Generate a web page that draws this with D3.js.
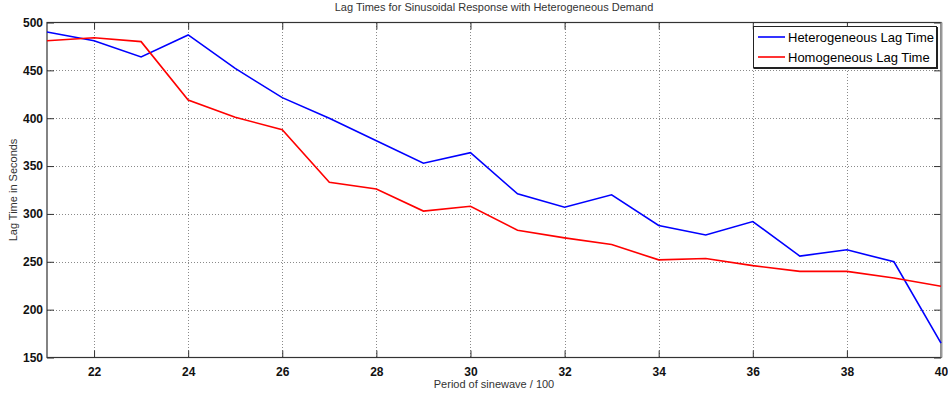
<!DOCTYPE html>
<html>
<head>
<meta charset="utf-8">
<script src="https://cdn.jsdelivr.net/npm/d3@7"></script>
<style>
  html, body { margin: 0; padding: 0; background: #fff; }
  svg { display: block; font-family: "Liberation Sans", Arial, Helvetica, sans-serif; }
</style>
</head>
<body>
<svg id="chart" width="948" height="396"></svg>
<script>
// Period of the sinewave (in hundreds)
const periods = [21, 22, 23, 24, 25, 26, 27, 28, 29, 30, 31, 32, 33, 34, 35, 36, 37, 38, 39, 40];
// Lag time in seconds, heterogeneous demand
const heterogeneousLag = [490, 481, 464, 487, 452, 421.5, 400, 376.5, 353, 364, 321, 307, 320, 288, 278, 292, 256, 262.5, 250, 165];
// Lag time in seconds, homogeneous demand
const homogeneousLag = [481, 484, 480, 419, 401, 388, 333, 326, 303, 308, 283, 275, 268, 252, 253.5, 246, 240, 240, 233, 224.5];

const xTicks = [22, 24, 26, 28, 30, 32, 34, 36, 38, 40];
const yTicks = [150, 200, 250, 300, 350, 400, 450, 500];
const seriesNames = ["Heterogeneous Lag Time", "Homogeneous Lag Time"];
const seriesColors = ["#0000ff", "#ff0000"];

const svg = d3.select("#chart");
const plotLeft = 47, plotRight = 941, plotTop = 22.5, plotBottom = 357.5;

const x = d3.scaleLinear().domain([21, 40]).range([plotLeft, plotRight]);
const y = d3.scaleLinear().domain([150, 500]).range([plotBottom, plotTop]);

// dotted grid
const grid = svg.append("g").attr("stroke", "#8a8a8a").attr("stroke-width", 1)
  .attr("stroke-dasharray", "1,2").attr("shape-rendering", "crispEdges");
grid.selectAll("line.gx").data(xTicks.filter(t => t !== 40)).enter().append("line")
  .attr("x1", d => Math.round(x(d)) + 0.5).attr("x2", d => Math.round(x(d)) + 0.5)
  .attr("y1", plotTop).attr("y2", plotBottom);
grid.selectAll("line.gy").data(yTicks.filter(t => t !== 150 && t !== 500)).enter().append("line")
  .attr("y1", d => Math.round(y(d)) + 0.5).attr("y2", d => Math.round(y(d)) + 0.5)
  .attr("x1", plotLeft).attr("x2", plotRight);

// axes with inward ticks, mirrored on the opposite sides
const tickLen = 7;
const axisColor = "#333";
const xBottom = d3.axisBottom(x).tickValues(xTicks).tickSize(-tickLen).tickPadding(10).tickFormat(d3.format("d"));
const xTop = d3.axisTop(x).tickValues(xTicks).tickSize(-tickLen).tickFormat("");
const yLeft = d3.axisLeft(y).tickValues(yTicks).tickSize(-tickLen).tickPadding(4).tickFormat(d3.format("d"));
const yRight = d3.axisRight(y).tickValues(yTicks).tickSize(-tickLen).tickFormat("");

function styleAxis(g) {
  g.select(".domain").remove();
  g.selectAll(".tick line").attr("stroke", axisColor);
  g.selectAll(".tick text").attr("fill", "#111").attr("font-size", 12).attr("font-weight", "bold")
    .attr("font-family", "\"Liberation Sans\", Arial, sans-serif");
}
svg.append("g").attr("transform", `translate(0,${plotBottom})`).call(xBottom).call(styleAxis);
svg.append("g").attr("transform", `translate(0,${plotTop})`).call(xTop).call(styleAxis);
svg.append("g").attr("transform", `translate(${plotLeft},0)`).call(yLeft).call(styleAxis);
svg.append("g").attr("transform", `translate(${plotRight},0)`).call(yRight).call(styleAxis);

// frame
svg.append("rect").attr("x", plotLeft).attr("y", plotTop).attr("width", plotRight - plotLeft).attr("height", plotBottom - plotTop)
  .attr("fill", "none").attr("stroke", axisColor).attr("stroke-width", 1.2);
svg.append("line").attr("x1", plotRight + 0.5).attr("x2", plotRight + 0.5).attr("y1", plotTop).attr("y2", plotBottom)
  .attr("stroke", "#999").attr("stroke-width", 2);

// series lines
const line = d3.line().x((d, i) => x(periods[i])).y(d => y(d));
[heterogeneousLag, homogeneousLag].forEach((vals, k) => {
  svg.append("path").datum(vals).attr("d", line)
    .attr("fill", "none").attr("stroke", seriesColors[k]).attr("stroke-width", 1.6)
    .attr("stroke-linejoin", "miter");
});

// titles
svg.append("text").attr("x", (plotLeft + plotRight) / 2).attr("y", 11).attr("text-anchor", "middle")
  .attr("font-size", 11).attr("fill", "#333").text("Lag Times for Sinusoidal Response with Heterogeneous Demand");
svg.append("text").attr("x", (plotLeft + plotRight) / 2).attr("y", 388).attr("text-anchor", "middle")
  .attr("font-size", 11).attr("fill", "#333").text("Period of sinewave / 100");
svg.append("text").attr("transform", `translate(17,${(plotTop + plotBottom) / 2}) rotate(-90)`)
  .attr("text-anchor", "middle").attr("font-size", 11).attr("fill", "#333").text("Lag Time in Seconds");

// legend
const lg = svg.append("g");
const lx = 753, ly = 26, lw = 184, lh = 42;
lg.append("rect").attr("x", lx + 1).attr("y", ly + 1).attr("width", lw).attr("height", lh).attr("fill", "#222");
lg.append("rect").attr("x", lx + 0.5).attr("y", ly + 0.5).attr("width", lw - 1).attr("height", lh - 1)
  .attr("fill", "#fff").attr("stroke", "#222").attr("stroke-width", 1);
seriesNames.forEach((name, k) => {
  const yy = ly + 11 + k * 20;
  lg.append("line").attr("x1", lx + 5).attr("x2", lx + 32).attr("y1", yy).attr("y2", yy)
    .attr("stroke", seriesColors[k]).attr("stroke-width", 1.6);
  lg.append("text").attr("x", lx + 35).attr("y", yy + 4.5).attr("font-size", 13)
    .attr("fill", "#000").text(name);
});
</script>
</body>
</html>
